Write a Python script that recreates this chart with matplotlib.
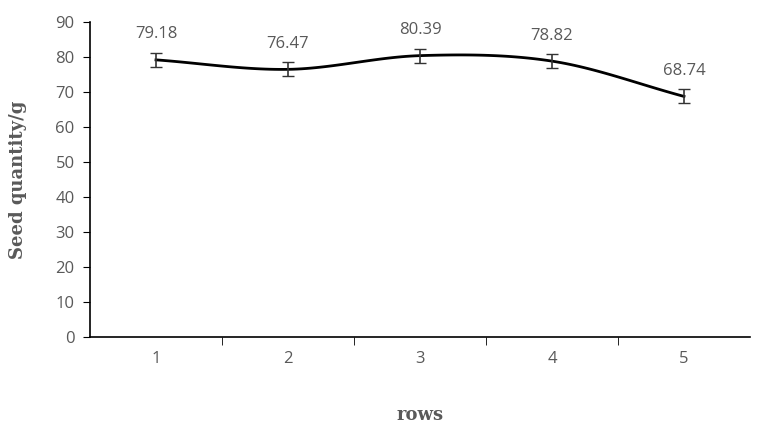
import numpy as np
import matplotlib
matplotlib.use("Agg")
import matplotlib.pyplot as plt

rows = [1, 2, 3, 4, 5]
seed = [79.18, 76.47, 80.39, 78.82, 68.74]
err = [2.0, 2.0, 2.0, 2.0, 2.0]

# Excel-style smoothed line (Catmull-Rom between points)
def smooth(x, y, n=30):
    x = np.asarray(x, float); y = np.asarray(y, float)
    px = np.concatenate([[2*x[0]-x[1]], x, [2*x[-1]-x[-2]]])
    py = np.concatenate([[2*y[0]-y[1]], y, [2*y[-1]-y[-2]]])
    xs, ys = [], []
    t = np.linspace(0, 1, n)
    for i in range(1, len(px)-2):
        for p, out in ((px, xs), (py, ys)):
            p0, p1, p2, p3 = p[i-1], p[i], p[i+1], p[i+2]
            out.extend(0.5*((2*p1) + (-p0+p2)*t + (2*p0-5*p1+4*p2-p3)*t**2
                            + (-p0+3*p1-3*p2+p3)*t**3))
    return xs, ys

fig = plt.figure(figsize=(7.69, 4.26), dpi=100)
ax = fig.add_axes([90/769, 1-337/426, 660/769, 315/426])

sx, sy = smooth(rows, seed)
ax.plot(sx, sy, color="black", lw=2)
ax.errorbar(rows, seed, yerr=err, fmt="none", ecolor="#333333", elinewidth=1.2, capsize=4)

gray = "#595959"
for x, y in zip(rows, seed):
    ax.text(x, y + 5, f"{y:.2f}", ha="center", va="bottom", fontsize=12,
            color=gray, family="Open Sans")

ax.set_xlim(0.5, 5.5)
ax.set_ylim(0, 90)
ax.set_yticks(range(0, 91, 10))
ax.set_xticks(rows)
ax.set_xticks([1.5, 2.5, 3.5, 4.5], minor=True)
ax.tick_params(axis="x", which="major", length=0, pad=10)
ax.tick_params(axis="x", which="minor", length=6, direction="out", color="black")
ax.tick_params(axis="y", length=5, direction="out", pad=6)
for lab in ax.get_xticklabels() + ax.get_yticklabels():
    lab.set_fontsize(12)
    lab.set_color(gray)
    lab.set_family("Open Sans")
for s in ("top", "right"):
    ax.spines[s].set_visible(False)
ax.spines["left"].set_linewidth(1.2)
ax.spines["bottom"].set_linewidth(1.2)

ax.set_ylabel("Seed quantity/g", fontsize=13, fontweight="bold", color=gray,
              family="DejaVu Serif")
ax.yaxis.set_label_coords(-0.095, 0.5)
ax.set_xlabel("rows", fontsize=13, fontweight="bold", color=gray,
              family="DejaVu Serif")
ax.xaxis.set_label_coords(0.5, -0.22)

fig.savefig("out.png", dpi=100)
